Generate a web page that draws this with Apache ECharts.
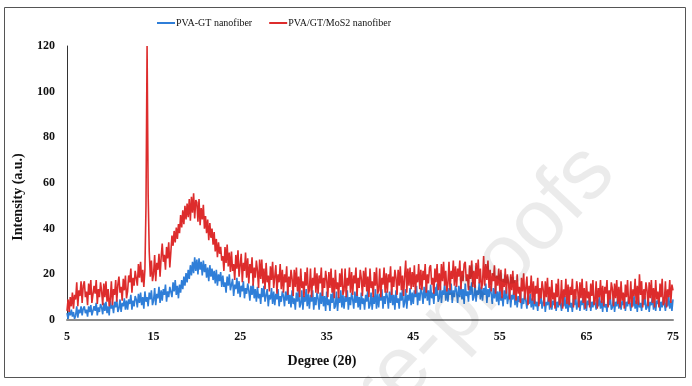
<!DOCTYPE html>
<html>
<head>
<meta charset="utf-8">
<script src="https://cdn.jsdelivr.net/npm/echarts@6/dist/echarts.min.js"></script>
<style>
html,body{margin:0;padding:0;background:#fff;}
#chart{width:692px;height:386px;}
</style>
</head>
<body>
<div id="chart"></div>
<script>
// 2θ grid: 5° to 75° in 0.125° steps
const degStart = 5;
const degStep = 0.125;

// PVA-GT nanofiber (blue), 8 readings per degree
const pvaGT = [
  3,0.5,4,2,4.5,1.5,3.5,0.5,  2,6,1,4.5,3,6,2,5,  6,3,4.5,1.5,6,3.5,6.5,2,  2,6,4,7.5,2,5.5,3.5,7,  5.5,2.5,7.5,4,8,3,6,2,
  8.5,5,6.5,3,8,5.5,9,3.5,  5,9,3.5,7.5,6,9.5,4.5,8.5,  4.5,9,7,11,4.5,8.5,6,10.5,  9,5.5,11.5,7.5,12,6.5,10,5,  12.5,8,10,6,12,9,13,6.5,
  8.5,14,6.5,11.5,9.5,14.5,7.5,13,  8.5,13.5,11,15.5,8,12.5,10,14.5,  14.5,10,16.5,12.5,17.5,11,15,9.5,  15.5,12,17.5,13.5,19,15,20.5,16.5,  22,18,24,19.5,25.5,20.5,27.5,21.5,
  26.5,20,27,22,25.5,19.5,26,21,  24.5,18.5,23,17,24,19,22.5,17.5,  21.5,16,22,15,20,17,21,14.5,  19.5,14.5,16.5,12,19,15,20,13,  12.5,18,10.5,15.5,13.5,18.5,11.5,17,
  10,15,12.5,17,9.5,14,11.5,16,  13,8.5,15,11,16,9.5,13.5,8,  14.5,9.5,11.5,7,14,10,15,8,  8,13.5,6,11,9,14,7,12.5,  6.5,11.5,9,13.5,6,10.5,8,12.5,
  10.5,6,12.5,8.5,13.5,7,11,5.5,  13,7,9.5,4.5,12,8,13.5,5.5,  7,13,4.5,10.5,8,13.5,6,11.5,  5,11,8,13,4.5,10,6.5,12,  9.5,4.5,12,7,13,6,10.5,4,
  12.5,6.5,9,4,11.5,7.5,13,5,  6,12.5,4,10,7.5,13,5.5,11,  5,10.5,8,13,4.5,10,6.5,12,  9,5,12.5,7.5,13,5.5,10,4.5,  12,7,9.5,4.5,11,8,13.5,5,
  6.5,12,4.5,10.5,7,13.5,5,11.5,  5.5,11.5,8.5,13.5,5,10.5,7,12.5,  10,5,12.5,7.5,13.5,6.5,11,4.5,  13,7.5,9.5,5,12,8.5,13.5,5.5,  7.5,13.5,5,11,8.5,14,6.5,12,
  7,13,10,15,6.5,12,8.5,14,  12,7,14.5,9.5,15.5,8.5,13,6.5,  15.5,9.5,12,7,14.5,10.5,16,8,  9.5,15,7.5,13,11,16,8.5,14,  8,14,11,16,7.5,13,10,15,
  12.5,7.5,15,10,16,9,13.5,7,  16,10.5,12.5,8,15,11,16.5,8.5,  10,15.5,8,13,11,16.5,9,14.5,  8.5,14,11,16,7.5,13.5,10,15,  11.5,7,14,9.5,15,8,12.5,6.5,
  14,8.5,10.5,6,13,9,14.5,7,  7.5,13,5.5,11,9,14,6.5,12,  5.5,10.5,8,12.5,5,9.5,7,12,  8.5,5,11,7,11.5,5.5,9.5,4.5,  10.5,6,8,4,10,7,11,5,
  5.5,10,3.5,8,6.5,10.5,4.5,9,  4.5,8.5,6.5,10.5,4,8,5.5,9.5,  7.5,4,9.5,6,10.5,5,8.5,3.5,  10,5.5,7.5,3.5,9.5,6.5,10.5,4.5,  5,10,4,8.5,6.5,11,4.5,9,
  4,8.5,6.5,10.5,4,8,5.5,9.5,  7.5,4.5,9.5,6,10,5,8.5,3.5,  9.5,5.5,7,3.5,10,6.5,10.5,4.5,  5.5,10,3.5,8,6,10.5,5,9,  4.5,8.5,6.5,10,4,8,6,9.5,
  7.5,4,9.5,6,10.5,5,8.5,3.5,  10,5.5,7.5,4,9.5,6.5,10.5,4.5,  5.5,10,3.5,8,6.5,10.5,4.5,9,  4,8.5,7,10.5,4,8,5.5,9.5,  7.5,4,9.5,6,10.5,5,8.5,4,
  9
];

// PVA/GT/MoS2 nanofiber (red), 8 readings per degree
const pvaGTMoS2 = [
  4,9,3.5,10,6,12,5,11,  9,16.5,6,13,10.5,17,7.5,15,  17,10,12.5,6.5,16,11,17.5,7.5,  7.5,15,11.5,17.5,7,13.5,10,16.5,  12.5,6.5,16,10,17,8,13.5,6,
  9,17,6.5,13.5,11,17.5,8,15.5,  19,12,14.5,8.5,18,13,19.5,9.5,  12.5,19.5,16.5,22.5,12,18.5,15,21.5,  21,15,24.5,18.5,25.5,16.5,22,14.5,  22,50,120,55,30,19,26,17,
  20,28.5,17,25,22,29,19,27.5,  33.5,25.5,28.5,22,32,27,34,23,  30,37,32.5,39,34,40.5,35.5,42,  38,46,40.5,48,42,50,44,51,  45,53,43.5,54,47,55.5,44.5,52.5,
  51.5,43,53,41.5,49,44,50.5,40,  45.5,38,44,35,42.5,36,40,33,  38.5,30,35.5,27.5,34,29,32,26,  28,21.5,32,25,33,23.5,29.5,21,  30,21.5,24.5,17.5,28.5,22.5,30.5,19,
  19.5,29,16.5,25,21.5,29.5,18.5,27,  16,24.5,20.5,27.5,15,23,18.5,26,  21.5,14,26.5,18,26.5,16,22.5,13.5,  25,16.5,19.5,12.5,23.5,17.5,25.5,14,  14.5,24,11.5,20,16.5,24.5,13.5,22,
  12,20,16.5,23.5,11,19,14.5,22,  18,10.5,22,14.5,23,12.5,19,10,  22.5,14,17,10,21,15,23,11.5,  13,22.5,10,18.5,15,23,12,20.5,  11.5,19.5,16,23,10.5,18.5,14,21.5,
  17.5,10,21,14,22.5,12,18.5,9.5,  22,13.5,16.5,9.5,20.5,14.5,22.5,11,  13,22.5,10,18.5,15,23,12,21,  11,19.5,16,23,10.5,18.5,14,22,  18,10.5,21.5,14.5,23,12.5,19,10,
  22.5,14,17,10,21,15,23,11.5,  13,22.5,10,18.5,15.5,23,12,20.5,  12,20,16.5,23.5,11,19,14.5,22,  18.5,11,22,15,23.5,13,19.5,10.5,  19,26,12,22.5,15,23,13.5,21,
  14.5,24,11.5,20,16.5,24.5,13.5,22,  13,21.5,17.5,24.5,12,20,16,23,  24,15.5,18.5,11.5,22.5,16.5,24.5,13,  20.5,13,24.5,17,25.5,15,21.5,12.5,  16,25.5,13,21.5,18,26,15,23.5,
  14.5,22.5,19,26,13.5,21.5,17,24.5,  25.5,17,20,13,24,18,26,14.5,  21.5,14,25,18,26.5,16,22.5,13.5,  16,28,15,24.5,17.5,26,14,22,  12.5,20.5,17,24,11.5,19.5,15,22.5,
  12.5,22,9.5,18,14.5,22.5,11.5,20,  16.5,9,20,13,21.5,11,17.5,8.5,  20,11.5,14.5,7.5,18.5,12.5,20.5,9,  9.5,19,6.5,15,11.5,19.5,8.5,17,  7,15,11.5,18.5,6,14,9.5,17,
  13.5,6,17,10,18.5,8,14.5,5.5,  17.5,9,12,5,16,10,18,6.5,  8,17.5,5,13.5,10,18,7,15.5,  6.5,14.5,11,18,5.5,13.5,9,17,  13,5.5,16.5,9.5,18,7.5,14,5,
  17,9.5,12.5,5.5,16,10.5,17.5,6.5,  8.5,17,5,14,10,17.5,7.5,15,  6,14.5,11.5,17.5,5.5,13,9,16.5,  13.5,6,16,9.5,17.5,7,14.5,5.5,  17,8.5,12,5,15.5,10,17.5,7,
  8,17,5.5,13.5,10.5,18,7,15,  6.5,20,11,17,5.5,13.5,9,16.5,  13,6,16.5,9.5,17.5,7.5,14,5.5,  17.5,9,12.5,5.5,16,10,18,6.5,  8,17,5.5,13.5,10,17.5,7.5,15.5,
  13
];

const seriesNames = ['PVA-GT nanofiber', 'PVA/GT/MoS2 nanofiber'];
const xTickLabels = [5, 15, 25, 35, 45, 55, 65, 75];
const yTickLabels = [0, 20, 40, 60, 80, 100, 120];

function toPairs(arr) {
  return arr.map((v, i) => [degStart + i * degStep, v]);
}

const chart = echarts.init(document.getElementById('chart'), null, {renderer: 'canvas'});
const serif = '"Liberation Serif", "Times New Roman", serif';

chart.setOption({
  animation: false,
  backgroundColor: '#fff',
  grid: {left: 67, right: 19, top: 46, bottom: 66, containLabel: false},
  legend: {
    left: 157, top: 18, padding: 0,
    data: seriesNames,
    icon: 'rect', itemWidth: 18, itemHeight: 2, itemGap: 17,
    textStyle: {fontFamily: serif, fontSize: 10, color: '#111', padding: [0, 0, 0, -4]}
  },
  xAxis: {
    type: 'value', min: xTickLabels[0], max: xTickLabels[xTickLabels.length - 1],
    axisLine: {show: true, lineStyle: {color: '#8a8a8a', width: 2}},
    axisTick: {show: false},
    splitLine: {show: false},
    axisLabel: {customValues: xTickLabels, fontFamily: serif, fontWeight: 'bold', fontSize: 12, color: '#111', margin: 11}
  },
  yAxis: {
    type: 'value', min: yTickLabels[0], max: yTickLabels[yTickLabels.length - 1], interval: 20,
    axisLine: {show: true, lineStyle: {color: '#333', width: 1}},
    axisTick: {show: false},
    splitLine: {show: false},
    axisLabel: {fontFamily: serif, fontWeight: 'bold', fontSize: 12, color: '#111', margin: 12}
  },
  series: [
    {
      name: seriesNames[0], type: 'line', data: toPairs(pvaGT),
      showSymbol: false, symbol: 'none', z: 2, sampling: null,
      lineStyle: {color: '#2f7ed8', width: 1.6}, itemStyle: {color: '#2f7ed8'}
    },
    {
      name: seriesNames[1], type: 'line', data: toPairs(pvaGTMoS2),
      showSymbol: false, symbol: 'none', z: 3, sampling: null,
      lineStyle: {color: '#dd2c2c', width: 1.6}, itemStyle: {color: '#dd2c2c'}
    }
  ],
  graphic: [
    {
      type: 'rect', silent: true, z: 0,
      shape: {x: 4.5, y: 7.5, width: 681, height: 370},
      style: {fill: 'none', stroke: '#555', lineWidth: 1}
    },
    {
      type: 'text', silent: true, z: 1,
      x: 322, y: 361,
      style: {text: 'Degree (2θ)', font: 'bold 14px ' + serif, fill: '#111', align: 'center', verticalAlign: 'middle'}
    },
    {
      type: 'text', silent: true, z: 1,
      x: 18.5, y: 197, rotation: Math.PI / 2,
      style: {text: 'Intensity (a.u.)', font: 'bold 14px ' + serif, fill: '#111', align: 'center', verticalAlign: 'middle'}
    },
    {
      type: 'text', silent: true, z: 100,
      x: 632, y: 188, rotation: 0.82,
      style: {text: 'Journal Pre-proofs', font: '86px "Liberation Sans", Arial, sans-serif', fill: 'rgba(0,0,0,0.08)', align: 'right', verticalAlign: 'bottom'}
    }
  ]
});
</script>
</body>
</html>
